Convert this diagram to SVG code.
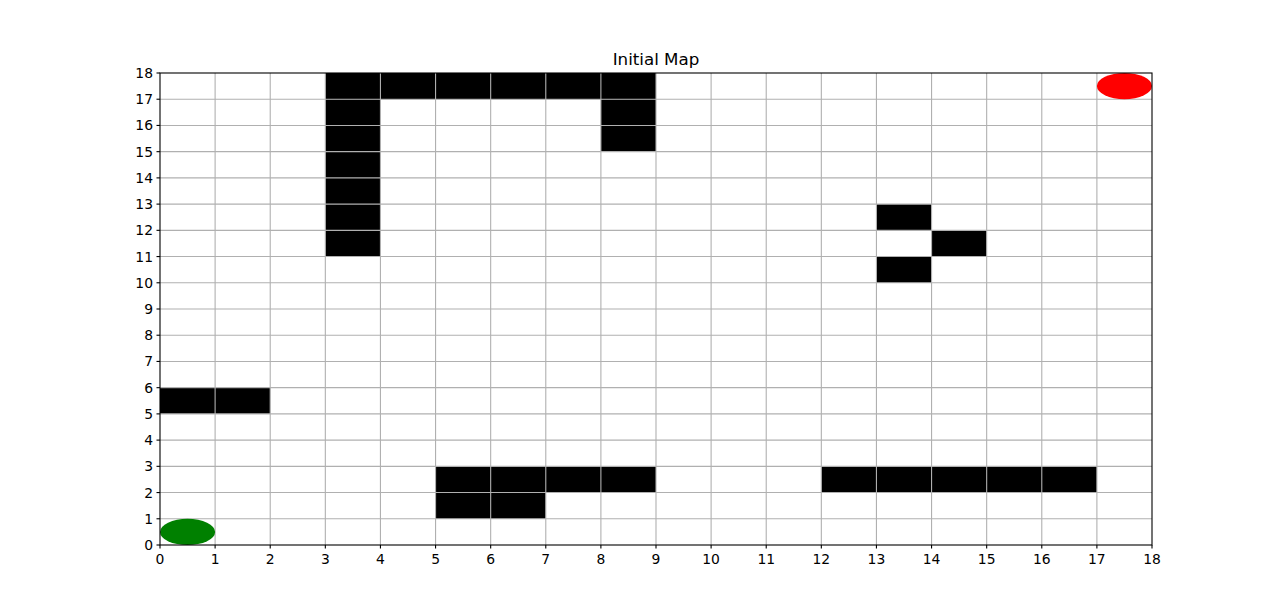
<svg xmlns="http://www.w3.org/2000/svg" width="1280" height="612" viewBox="0 0 1280 612">
<style>
.cell{fill:#000}
.grid line{stroke:#b0b0b0;stroke-width:1.1}
.tick{stroke:#000;stroke-width:1.1}
.lbl{font-family:"DejaVu Sans",sans-serif;font-size:13.9px;fill:#000}
.ttl{font-family:"DejaVu Sans",sans-serif;font-size:16.7px;fill:#000}
</style>
<rect width="1280" height="612" fill="#fff"/>
<text class="ttl" x="656" y="65" text-anchor="middle">Initial Map</text>
<g id="obstacles">
<rect class="cell" x="325.33" y="73" width="330.67" height="26.22"/>
<rect class="cell" x="325.33" y="99.22" width="55.11" height="157.34"/>
<rect class="cell" x="600.89" y="99.22" width="55.11" height="52.45"/>
<rect class="cell" x="876.44" y="204.11" width="55.12" height="26.22"/>
<rect class="cell" x="931.56" y="230.33" width="55.11" height="26.23"/>
<rect class="cell" x="876.44" y="256.56" width="55.12" height="26.22"/>
<rect class="cell" x="160" y="387.67" width="110.22" height="26.22"/>
<rect class="cell" x="435.56" y="466.33" width="220.44" height="26.23"/>
<rect class="cell" x="435.56" y="492.56" width="110.22" height="26.22"/>
<rect class="cell" x="821.33" y="466.33" width="275.56" height="26.23"/>
</g>
<g class="grid" id="grid">
<line x1="215.11" y1="73" x2="215.11" y2="545"/>
<line x1="270.22" y1="73" x2="270.22" y2="545"/>
<line x1="325.33" y1="73" x2="325.33" y2="545"/>
<line x1="380.44" y1="73" x2="380.44" y2="545"/>
<line x1="435.56" y1="73" x2="435.56" y2="545"/>
<line x1="490.67" y1="73" x2="490.67" y2="545"/>
<line x1="545.78" y1="73" x2="545.78" y2="545"/>
<line x1="600.89" y1="73" x2="600.89" y2="545"/>
<line x1="656" y1="73" x2="656" y2="545"/>
<line x1="711.11" y1="73" x2="711.11" y2="545"/>
<line x1="766.22" y1="73" x2="766.22" y2="545"/>
<line x1="821.33" y1="73" x2="821.33" y2="545"/>
<line x1="876.44" y1="73" x2="876.44" y2="545"/>
<line x1="931.56" y1="73" x2="931.56" y2="545"/>
<line x1="986.67" y1="73" x2="986.67" y2="545"/>
<line x1="1041.78" y1="73" x2="1041.78" y2="545"/>
<line x1="1096.89" y1="73" x2="1096.89" y2="545"/>
<line x1="160" y1="518.78" x2="1152" y2="518.78"/>
<line x1="160" y1="492.56" x2="1152" y2="492.56"/>
<line x1="160" y1="466.33" x2="1152" y2="466.33"/>
<line x1="160" y1="440.11" x2="1152" y2="440.11"/>
<line x1="160" y1="413.89" x2="1152" y2="413.89"/>
<line x1="160" y1="387.67" x2="1152" y2="387.67"/>
<line x1="160" y1="361.44" x2="1152" y2="361.44"/>
<line x1="160" y1="335.22" x2="1152" y2="335.22"/>
<line x1="160" y1="309" x2="1152" y2="309"/>
<line x1="160" y1="282.78" x2="1152" y2="282.78"/>
<line x1="160" y1="256.56" x2="1152" y2="256.56"/>
<line x1="160" y1="230.33" x2="1152" y2="230.33"/>
<line x1="160" y1="204.11" x2="1152" y2="204.11"/>
<line x1="160" y1="177.89" x2="1152" y2="177.89"/>
<line x1="160" y1="151.67" x2="1152" y2="151.67"/>
<line x1="160" y1="125.44" x2="1152" y2="125.44"/>
<line x1="160" y1="99.22" x2="1152" y2="99.22"/>
</g>
<g id="start"><ellipse cx="187.56" cy="531.89" rx="27.56" ry="13.1" fill="#008000"/></g>
<g id="goal"><ellipse cx="1124.44" cy="86.11" rx="27.56" ry="13.1" fill="#ff0000"/></g>
<g id="axes">
<rect x="160" y="73" width="992" height="472" fill="none" stroke="#000" stroke-width="1.1"/>
<g class="tick">
<line x1="160" y1="545" x2="160" y2="548.5"/><line x1="215.11" y1="545" x2="215.11" y2="548.5"/><line x1="270.22" y1="545" x2="270.22" y2="548.5"/><line x1="325.33" y1="545" x2="325.33" y2="548.5"/><line x1="380.44" y1="545" x2="380.44" y2="548.5"/><line x1="435.56" y1="545" x2="435.56" y2="548.5"/><line x1="490.67" y1="545" x2="490.67" y2="548.5"/><line x1="545.78" y1="545" x2="545.78" y2="548.5"/><line x1="600.89" y1="545" x2="600.89" y2="548.5"/><line x1="656" y1="545" x2="656" y2="548.5"/><line x1="711.11" y1="545" x2="711.11" y2="548.5"/><line x1="766.22" y1="545" x2="766.22" y2="548.5"/><line x1="821.33" y1="545" x2="821.33" y2="548.5"/><line x1="876.44" y1="545" x2="876.44" y2="548.5"/><line x1="931.56" y1="545" x2="931.56" y2="548.5"/><line x1="986.67" y1="545" x2="986.67" y2="548.5"/><line x1="1041.78" y1="545" x2="1041.78" y2="548.5"/><line x1="1096.89" y1="545" x2="1096.89" y2="548.5"/><line x1="1152" y1="545" x2="1152" y2="548.5"/>
<line x1="156.5" y1="545" x2="160" y2="545"/><line x1="156.5" y1="518.78" x2="160" y2="518.78"/><line x1="156.5" y1="492.56" x2="160" y2="492.56"/><line x1="156.5" y1="466.33" x2="160" y2="466.33"/><line x1="156.5" y1="440.11" x2="160" y2="440.11"/><line x1="156.5" y1="413.89" x2="160" y2="413.89"/><line x1="156.5" y1="387.67" x2="160" y2="387.67"/><line x1="156.5" y1="361.44" x2="160" y2="361.44"/><line x1="156.5" y1="335.22" x2="160" y2="335.22"/><line x1="156.5" y1="309" x2="160" y2="309"/><line x1="156.5" y1="282.78" x2="160" y2="282.78"/><line x1="156.5" y1="256.56" x2="160" y2="256.56"/><line x1="156.5" y1="230.33" x2="160" y2="230.33"/><line x1="156.5" y1="204.11" x2="160" y2="204.11"/><line x1="156.5" y1="177.89" x2="160" y2="177.89"/><line x1="156.5" y1="151.67" x2="160" y2="151.67"/><line x1="156.5" y1="125.44" x2="160" y2="125.44"/><line x1="156.5" y1="99.22" x2="160" y2="99.22"/><line x1="156.5" y1="73" x2="160" y2="73"/>
</g>
<g class="lbl" text-anchor="middle">
<text x="160" y="564">0</text><text x="215.11" y="564">1</text><text x="270.22" y="564">2</text><text x="325.33" y="564">3</text><text x="380.44" y="564">4</text><text x="435.56" y="564">5</text><text x="490.67" y="564">6</text><text x="545.78" y="564">7</text><text x="600.89" y="564">8</text><text x="656" y="564">9</text><text x="711.11" y="564">10</text><text x="766.22" y="564">11</text><text x="821.33" y="564">12</text><text x="876.44" y="564">13</text><text x="931.56" y="564">14</text><text x="986.67" y="564">15</text><text x="1041.78" y="564">16</text><text x="1096.89" y="564">17</text><text x="1152" y="564">18</text>
</g>
<g class="lbl" text-anchor="end">
<text x="153" y="550">0</text><text x="153" y="523.78">1</text><text x="153" y="497.56">2</text><text x="153" y="471.33">3</text><text x="153" y="445.11">4</text><text x="153" y="418.89">5</text><text x="153" y="392.67">6</text><text x="153" y="366.44">7</text><text x="153" y="340.22">8</text><text x="153" y="314">9</text><text x="153" y="287.78">10</text><text x="153" y="261.56">11</text><text x="153" y="235.33">12</text><text x="153" y="209.11">13</text><text x="153" y="182.89">14</text><text x="153" y="156.67">15</text><text x="153" y="130.44">16</text><text x="153" y="104.22">17</text><text x="153" y="78">18</text>
</g>
</g>
</svg>
